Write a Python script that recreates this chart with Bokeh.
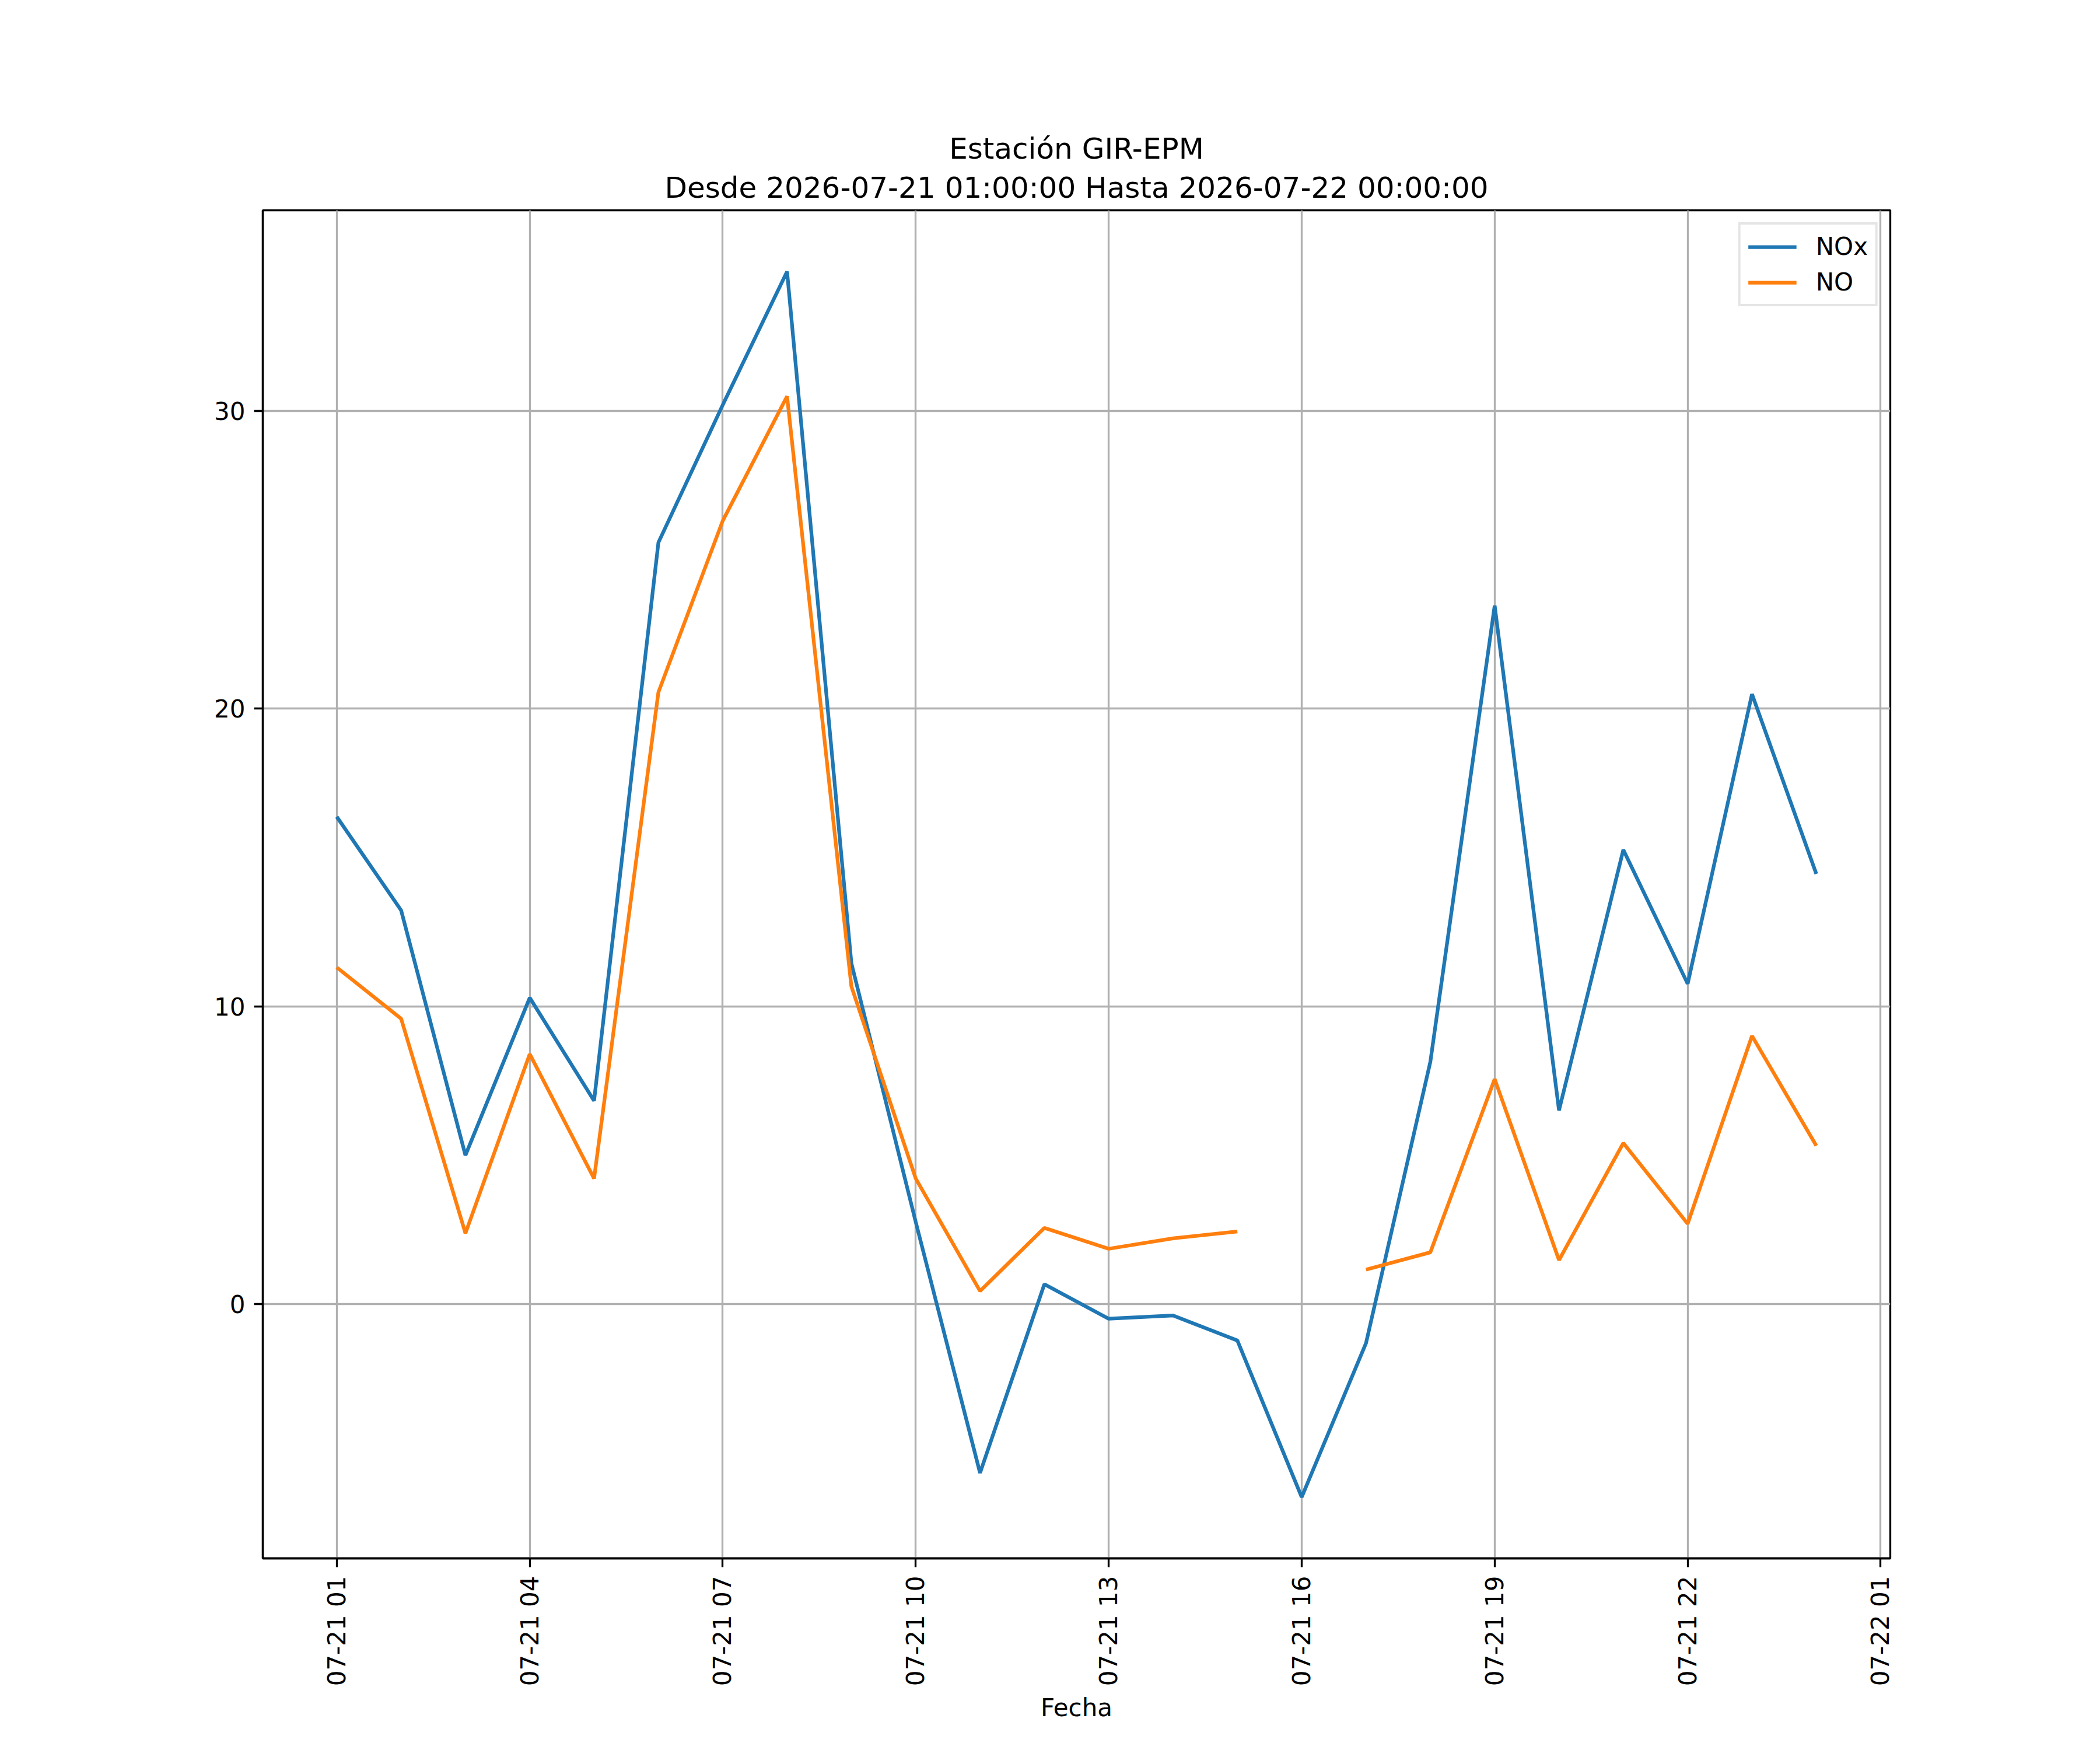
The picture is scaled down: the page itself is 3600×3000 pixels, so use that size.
import math
import numpy as np
import pandas as pd
from bokeh.plotting import figure
from bokeh.models import (Range1d, FixedTicker, DatetimeTickFormatter, Title,
                          Legend, LegendItem, ColumnDataSource)
from bokeh.embed import file_html
from bokeh.resources import INLINE

# ---- data ----
hours = pd.date_range("2026-07-21 01:00", periods=24, freq="h")
nox = [16.37, 13.23, 5.0, 10.29, 6.83, 25.58, 30.2, 34.68, 11.45, 2.76,
       -5.67, 0.67, -0.49, -0.38, -1.22, -6.48, -1.31, 8.14, 23.46, 6.51,
       15.26, 10.76, 20.49, 14.45]
no = [11.31, 9.59, 2.38, 8.40, 4.22, 20.55, 26.31, 30.49, 10.67, 4.22,
      0.44, 2.56, 1.86, 2.21, 2.44, np.nan, 1.16, 1.74, 7.56, 1.48,
      5.41, 2.70, 9.01, 5.32]
series_names = ["NOx", "NO"]
y_ticks = [0, 10, 20, 30]
x_tick_times = pd.date_range("2026-07-21 01:00", "2026-07-22 01:00", freq="3h")
title_line1 = "Estación GIR-EPM"
title_line2 = "Desde 2026-07-21 01:00:00 Hasta 2026-07-22 00:00:00"
x_label = "Fecha"

# ---- ranges (matplotlib-like 5% margins) ----
t_ms = (hours.asi8 // 10**6).astype(float)
x_span = t_ms[-1] - t_ms[0]
x_start = t_ms[0] - 0.05 * x_span
x_end = t_ms[-1] + 0.05 * x_span
all_y = np.array([v for v in nox + no if not np.isnan(v)])
y_span = all_y.max() - all_y.min()
y_start = all_y.min() - 0.05 * y_span
y_end = all_y.max() + 0.05 * y_span

FONT = "DejaVu Sans"
W, H = 3584, 2984

p = figure(width=W, height=H, x_axis_type="datetime",
           x_range=Range1d(x_start, x_end), y_range=Range1d(y_start, y_end),
           output_backend="svg", toolbar_location=None, title=None,
           min_border_left=450, min_border_right=W - 3240,
           min_border_top=360, min_border_bottom=H - 2671)

p.background_fill_color = "white"
p.border_fill_color = "white"
p.outline_line_color = "black"
p.outline_line_width = 3.3

src = ColumnDataSource(dict(t=hours, nox=nox, no=no))
r1 = p.line("t", "nox", source=src, line_color="#1f77b4", line_width=6.25)
r2 = p.line("t", "no", source=src, line_color="#ff7f0e", line_width=6.25)

# grid
for g in (p.xgrid[0], p.ygrid[0]):
    g.grid_line_color = "#b0b0b0"
    g.grid_line_width = 3.3

# axes
xticks_ms = list((x_tick_times.asi8 // 10**6).astype(float))
p.xaxis[0].ticker = FixedTicker(ticks=xticks_ms)
fmt = "%m-%d %H"
p.xaxis[0].formatter = DatetimeTickFormatter(
    microseconds=fmt, milliseconds=fmt, seconds=fmt, minsec=fmt, minutes=fmt,
    hourmin=fmt, hours=fmt, days=fmt, months=fmt, years=fmt, context=None)
p.xaxis[0].major_label_orientation = math.pi / 2
p.yaxis[0].ticker = FixedTicker(ticks=y_ticks)

for ax in (p.xaxis[0], p.yaxis[0]):
    ax.axis_line_color = "black"
    ax.axis_line_width = 3.3
    ax.major_tick_line_color = "black"
    ax.major_tick_line_width = 3.3
    ax.major_tick_in = 0
    ax.major_tick_out = 15
    ax.minor_tick_line_color = None
    ax.major_label_standoff = 15
    ax.major_label_text_font = FONT
    ax.major_label_text_font_size = "42px"
    ax.major_label_text_color = "black"

p.xaxis[0].axis_label = x_label
p.xaxis[0].axis_label_text_font = FONT
p.xaxis[0].axis_label_text_font_size = "42px"
p.xaxis[0].axis_label_text_font_style = "normal"
p.xaxis[0].axis_label_text_color = "black"
p.xaxis[0].axis_label_standoff = 10

# titles (first added sits closest to the plot)
p.add_layout(Title(text=title_line2, align="center", text_font=FONT,
                   text_font_size="50px", text_font_style="normal",
                   text_color="black", standoff=20), "above")
p.add_layout(Title(text=title_line1, align="center", text_font=FONT,
                   text_font_size="50px", text_font_style="normal",
                   text_color="black", standoff=-7), "above")

legend = Legend(items=[LegendItem(label=series_names[0], renderers=[r1]),
                       LegendItem(label=series_names[1], renderers=[r2])],
                location="top_right")
legend.margin = 21
legend.padding = 13
legend.spacing = 12
legend.glyph_width = 83
legend.glyph_height = 44
legend.label_height = 44
legend.label_standoff = 33
legend.label_text_font = FONT
legend.label_text_font_size = "42px"
legend.label_text_color = "black"
legend.border_line_color = "#cccccc"
legend.border_line_width = 4
legend.background_fill_color = "white"
legend.background_fill_alpha = 0.8
p.add_layout(legend, "center")

open("out.html", "w").write(file_html(p, INLINE))
